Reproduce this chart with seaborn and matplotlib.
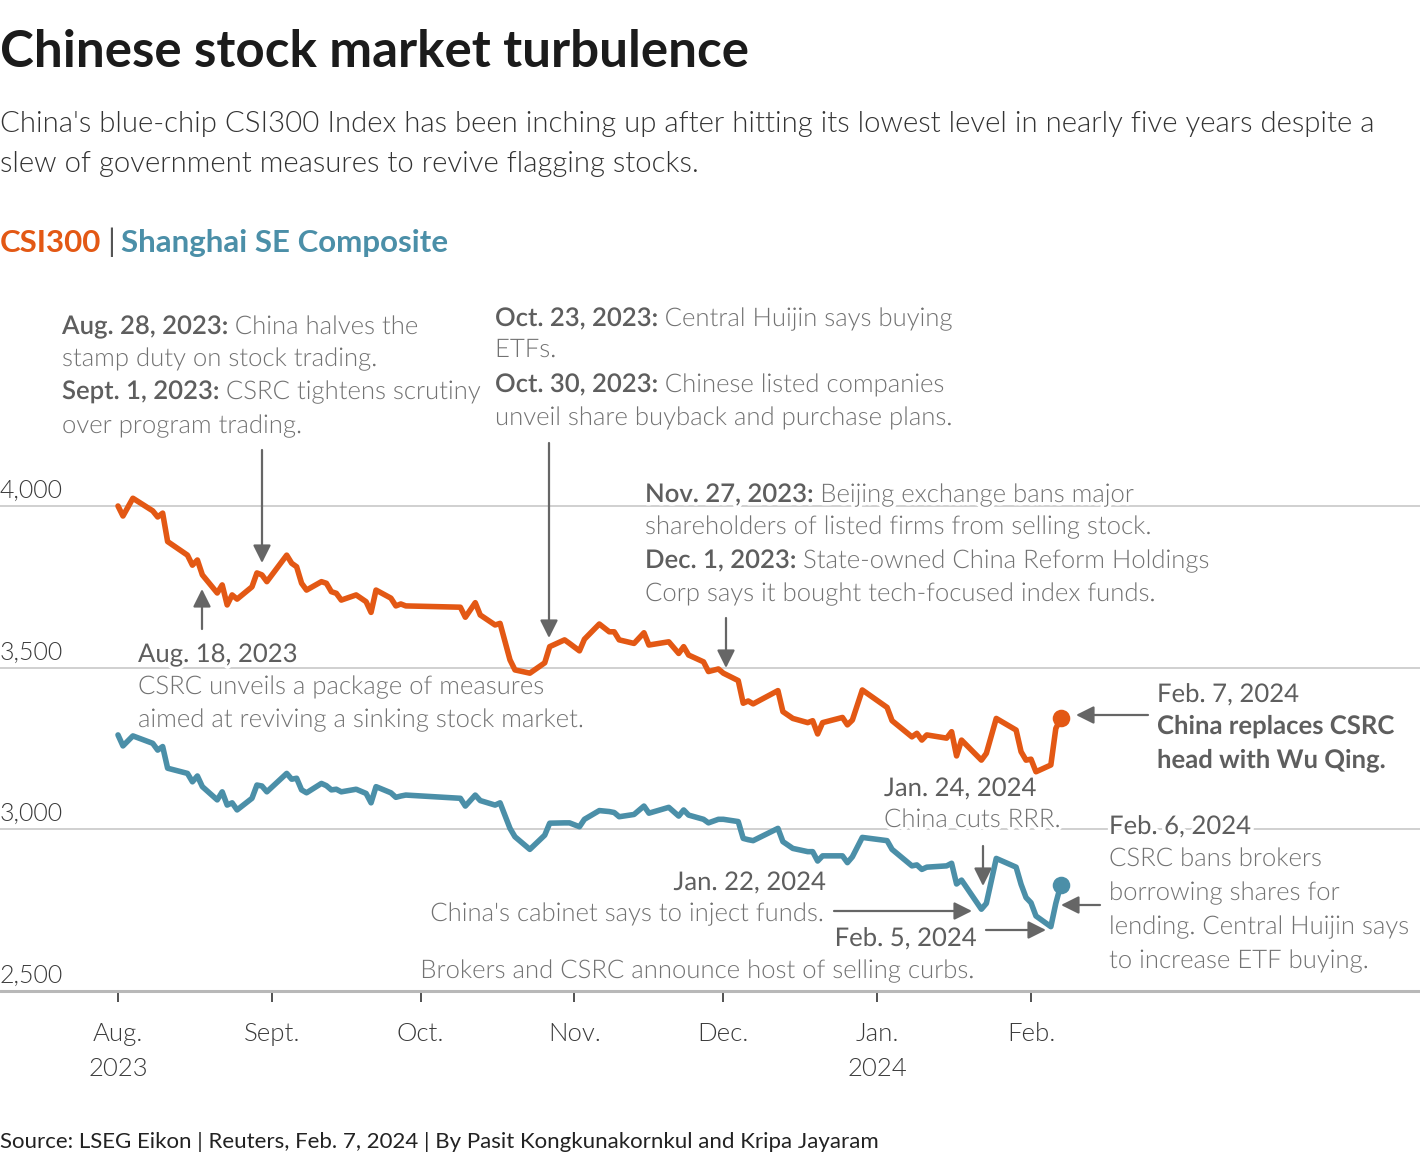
import matplotlib
matplotlib.use('Agg')
import pandas as pd
import matplotlib.pyplot as plt
import matplotlib.dates as mdates
import matplotlib.transforms as mtransforms
import matplotlib.patheffects as pe
import seaborn as sns

# --- data ---
dates = [
    # Aug 2023
    '2023-08-01', '2023-08-02', '2023-08-04', '2023-08-08', '2023-08-09', '2023-08-10', '2023-08-11',
    '2023-08-15', '2023-08-16', '2023-08-17', '2023-08-18', '2023-08-21', '2023-08-22', '2023-08-23',
    '2023-08-24', '2023-08-25', '2023-08-28', '2023-08-29', '2023-08-30', '2023-08-31',
    # Sept
    '2023-09-04', '2023-09-05', '2023-09-06', '2023-09-07', '2023-09-08', '2023-09-11', '2023-09-12',
    '2023-09-13', '2023-09-14', '2023-09-15', '2023-09-18', '2023-09-20', '2023-09-21', '2023-09-22',
    '2023-09-25', '2023-09-26', '2023-09-27', '2023-09-28',
    # Oct
    '2023-10-09', '2023-10-10', '2023-10-12', '2023-10-13', '2023-10-16', '2023-10-17', '2023-10-19',
    '2023-10-20', '2023-10-23', '2023-10-26', '2023-10-27', '2023-10-30', '2023-10-31',
    # Nov
    '2023-11-02', '2023-11-03', '2023-11-06', '2023-11-08', '2023-11-09', '2023-11-10', '2023-11-13',
    '2023-11-15', '2023-11-16', '2023-11-20', '2023-11-22', '2023-11-23', '2023-11-24', '2023-11-27',
    '2023-11-28', '2023-11-30',
    # Dec
    '2023-12-01', '2023-12-04', '2023-12-05', '2023-12-06', '2023-12-07', '2023-12-12', '2023-12-13',
    '2023-12-15', '2023-12-18', '2023-12-19', '2023-12-20', '2023-12-21', '2023-12-25', '2023-12-26',
    '2023-12-27', '2023-12-29',
    # Jan 2024
    '2024-01-03', '2024-01-04', '2024-01-08', '2024-01-09', '2024-01-10', '2024-01-11', '2024-01-15',
    '2024-01-16', '2024-01-17', '2024-01-18', '2024-01-22', '2024-01-23', '2024-01-25', '2024-01-29',
    '2024-01-30', '2024-01-31',
    # Feb
    '2024-02-01', '2024-02-02', '2024-02-05', '2024-02-06', '2024-02-07',
]

csi300 = [
    4000, 3969, 4024, 3985, 3966, 3978, 3890,
    3848, 3817, 3833, 3787, 3731, 3756, 3694,
    3725, 3712, 3750, 3793, 3787, 3766,
    3848, 3823, 3812, 3761, 3740, 3766, 3761,
    3735, 3730, 3709, 3725, 3704, 3671, 3740,
    3715, 3691, 3697, 3691,
    3687, 3656, 3701, 3663, 3632, 3637, 3524,
    3493, 3483, 3515, 3565, 3586, 3575,
    3552, 3588, 3635, 3611, 3611, 3586, 3575,
    3608, 3570, 3580, 3544, 3565, 3539, 3518,
    3488, 3496,
    3483, 3460, 3390, 3397, 3388, 3429, 3364,
    3343, 3330, 3336, 3295, 3330, 3346, 3323,
    3338, 3431,
    3377, 3336, 3286, 3297, 3276, 3292, 3282,
    3302, 3227, 3276, 3214, 3235, 3343, 3307,
    3240, 3214,
    3217, 3178, 3199, 3312, 3343,
]

shanghai = [
    3292, 3258, 3289, 3266, 3245, 3256, 3189,
    3173, 3147, 3165, 3132, 3091, 3116, 3075,
    3082, 3060, 3096, 3137, 3134, 3116,
    3173, 3155, 3158, 3122, 3113, 3142, 3135,
    3122, 3124, 3116, 3124, 3111, 3082, 3132,
    3113, 3099, 3103, 3106,
    3096, 3072, 3106, 3089, 3075, 3082, 3003,
    2977, 2938, 2982, 3019, 3020, 3020,
    3008, 3031, 3058, 3055, 3052, 3039, 3046,
    3072, 3050, 3068, 3041, 3060, 3044, 3031,
    3020, 3031,
    3031, 3024, 2972, 2968, 2965, 3003, 2962,
    2941, 2931, 2931, 2902, 2918, 2918, 2897,
    2915, 2975,
    2965, 2938, 2887, 2890, 2876, 2883, 2887,
    2895, 2831, 2843, 2753, 2771, 2910, 2883,
    2830, 2789,
    2773, 2732, 2699, 2771, 2828,
]

y_ticks = [2500, 3000, 3500, 4000]
month_ticks = ['2023-08-01', '2023-09-01', '2023-10-01', '2023-11-01', '2023-12-01', '2024-01-01', '2024-02-01']
month_labels = ['Aug.\n2023', 'Sept.', 'Oct.', 'Nov.', 'Dec.', 'Jan.\n2024', 'Feb.']

ORANGE = '#e35814'
BLUE = '#4b8fa8'
DARK = '#5e5e5e'
LIGHT = '#727272'

df = pd.DataFrame({'date': pd.to_datetime(dates), 'CSI300': csi300, 'Shanghai SE Composite': shanghai})
long_df = df.melt(id_vars='date', var_name='index', value_name='value')

# --- style ---
sns.set_theme(style='white')
plt.rcParams['font.family'] = ['Lato', 'DejaVu Sans']

W, H = 1420, 1160
fig = plt.figure(figsize=(W / 100, H / 100), dpi=100)
renderer = fig.canvas.get_renderer()
# pixel coords from the top-left corner
px = mtransforms.Affine2D().scale(1 / W, -1 / H).translate(0, 1) + fig.transFigure

# axes: bottom line (2500) at y=991 px, top at y=280 px
ax = fig.add_axes([0, (H - 991) / H, 1, (991 - 280) / H])

sns.lineplot(data=long_df, x='date', y='value', hue='index',
             palette={'CSI300': ORANGE, 'Shanghai SE Composite': BLUE},
             linewidth=4.0, legend=False, ax=ax, zorder=3)

# end dots
ax.scatter(df['date'].iloc[-1], csi300[-1], s=160, color=ORANGE, zorder=4, linewidths=0)
ax.scatter(df['date'].iloc[-1], shanghai[-1], s=160, color=BLUE, zorder=4, linewidths=0)

# scales
per_px = 500 / ((991 - 506) / 3)
ax.set_ylim(2500, 2500 + 711 * per_px)
aug1 = mdates.date2num(pd.Timestamp('2023-08-01'))
day_px = (1031 - 118) / 184
ax.set_xlim(aug1 - 118 / day_px, aug1 + (W - 118) / day_px)

for s in ax.spines.values():
    s.set_visible(False)

# grid lines
for v in y_ticks[1:]:
    ax.axhline(v, color='#c8c8c8', lw=1.2, zorder=1)
ax.axhline(2500, color='#b8b8b8', lw=2.2, zorder=1, clip_on=False)

ax.set_yticks([])
for v in y_ticks:
    ax.annotate(f'{v:,}', xy=(0, v), xycoords=('axes fraction', 'data'),
                xytext=(0, 6), textcoords='offset points', va='baseline', ha='left',
                fontsize=18, color='#3a3a3a', fontweight=300)

ax.set_xticks(pd.to_datetime(month_ticks))
ax.set_xticklabels(month_labels, fontsize=18.5, color='#3a3a3a', fontweight=300, linespacing=1.58)
ax.tick_params(axis='x', direction='out', length=8, width=1.2, color='#333333', pad=14, bottom=True)
ax.set_xlabel('')
ax.set_ylabel('')
ax.grid(False)

# --- header ---
fig.text(0, 67, 'Chinese stock market turbulence', transform=px, fontsize=36.8,
         fontweight='bold', color='#1b1b1b', va='baseline')
fig.text(0, 132, "China's blue-chip CSI300 Index has been inching up after hitting its lowest level in nearly five years despite a",
         transform=px, fontsize=21.2, fontweight=300, color='#333333', va='baseline')
fig.text(0, 172, 'slew of government measures to revive flagging stocks.',
         transform=px, fontsize=21.2, fontweight=300, color='#333333', va='baseline')

halo = [pe.withStroke(linewidth=5, foreground='white')]


def put_line(x, y, parts, size=18.5, gap=6, effects=None):
    # writes several text pieces side by side on one baseline
    for txt, props in parts:
        t = fig.text(x, y, txt, transform=px, va='baseline', fontsize=size,
                     path_effects=effects, **props)
        x += t.get_window_extent(renderer).width + gap


BOLD = dict(fontweight='semibold', color=DARK)
BODY = dict(fontweight=300, color=LIGHT)
REG = dict(fontweight='normal', color=DARK)

put_line(0, 252, [('CSI300', dict(fontweight='bold', color=ORANGE)),
                  ('|', dict(fontweight='normal', color='#555555')),
                  ('Shanghai SE Composite', dict(fontweight='bold', color=BLUE))], size=22.5, gap=6)

# --- annotations ---
put_line(62, 334, [('Aug. 28, 2023:', BOLD), ('China halves the', BODY)], effects=halo)
put_line(62, 366, [('stamp duty on stock trading.', BODY)], effects=halo)
put_line(62, 399, [('Sept. 1, 2023:', BOLD), ('CSRC tightens scrutiny', BODY)], effects=halo)
put_line(62, 433, [('over program trading.', BODY)], effects=halo)

put_line(495, 326, [('Oct. 23, 2023:', BOLD), ('Central Huijin says buying', BODY)], effects=halo)
put_line(495, 357, [('ETFs.', BODY)], effects=halo)
put_line(495, 392, [('Oct. 30, 2023:', BOLD), ('Chinese listed companies', BODY)], effects=halo)
put_line(495, 425, [('unveil share buyback and purchase plans.', BODY)], effects=halo)

put_line(645, 502, [('Nov. 27, 2023:', BOLD), ('Beijing exchange bans major', BODY)], effects=halo)
put_line(645, 534, [('shareholders of listed firms from selling stock.', BODY)], effects=halo)
put_line(645, 568, [('Dec. 1, 2023:', BOLD), ('State-owned China Reform Holdings', BODY)], effects=halo)
put_line(645, 601, [('Corp says it bought tech-focused index funds.', BODY)], effects=halo)

put_line(138, 662, [('Aug. 18, 2023', REG)], effects=halo)
put_line(138, 694, [('CSRC unveils a package of measures', BODY)], effects=halo)
put_line(138, 727, [('aimed at reviving a sinking stock market.', BODY)], effects=halo)

put_line(1157, 702, [('Feb. 7, 2024', REG)], effects=halo)
put_line(1157, 734, [('China replaces CSRC', dict(fontweight='bold', color=DARK))], effects=halo)
put_line(1157, 768, [('head with Wu Qing.', dict(fontweight='bold', color=DARK))], effects=halo)

put_line(884, 796, [('Jan. 24, 2024', REG)], effects=halo)
put_line(884, 827, [('China cuts RRR.', BODY)], effects=halo)

put_line(1109, 834, [('Feb. 6, 2024', REG)], effects=halo)
put_line(1109, 866, [('CSRC bans brokers', BODY)], effects=halo)
put_line(1109, 900, [('borrowing shares for', BODY)], effects=halo)
put_line(1109, 934, [('lending. Central Huijin says', BODY)], effects=halo)
put_line(1109, 968, [('to increase ETF buying.', BODY)], effects=halo)

fig.text(826, 890, 'Jan. 22, 2024', transform=px, ha='right', va='baseline', fontsize=18.5,
         path_effects=halo, **REG)
fig.text(826, 921, "China's cabinet says to inject funds.", transform=px, ha='right', va='baseline',
         fontsize=18.5, path_effects=halo, **BODY)
fig.text(977, 946, 'Feb. 5, 2024', transform=px, ha='right', va='baseline', fontsize=18.5,
         path_effects=halo, **REG)
fig.text(977, 978, 'Brokers and CSRC announce host of selling curbs.', transform=px, ha='right',
         va='baseline', fontsize=18.5, path_effects=halo, **BODY)

# arrows (start, end) in pixels
arrows = [((262, 450), (262, 563)),
          ((202, 629), (202, 589)),
          ((549, 443), (549, 638)),
          ((726, 618), (726, 668)),
          ((1148, 715), (1076, 715)),
          ((983, 846), (983, 886)),
          ((834, 911), (972, 911)),
          ((986, 930), (1046, 930)),
          ((1100, 905), (1061, 905))]
for start, end in arrows:
    ax.annotate('', xy=end, xycoords=px, xytext=start, textcoords=px,
                arrowprops=dict(arrowstyle='-|>,head_length=0.6,head_width=0.3', color='#666666',
                                lw=1.6, mutation_scale=18, shrinkA=0, shrinkB=0), zorder=2)

# --- source ---
fig.text(0, 1148, 'Source: LSEG Eikon | Reuters, Feb. 7, 2024 | By Pasit Kongkunakornkul and Kripa Jayaram',
         transform=px, fontsize=16, color='#222222', va='baseline')

fig.savefig('out.png', dpi=100)
